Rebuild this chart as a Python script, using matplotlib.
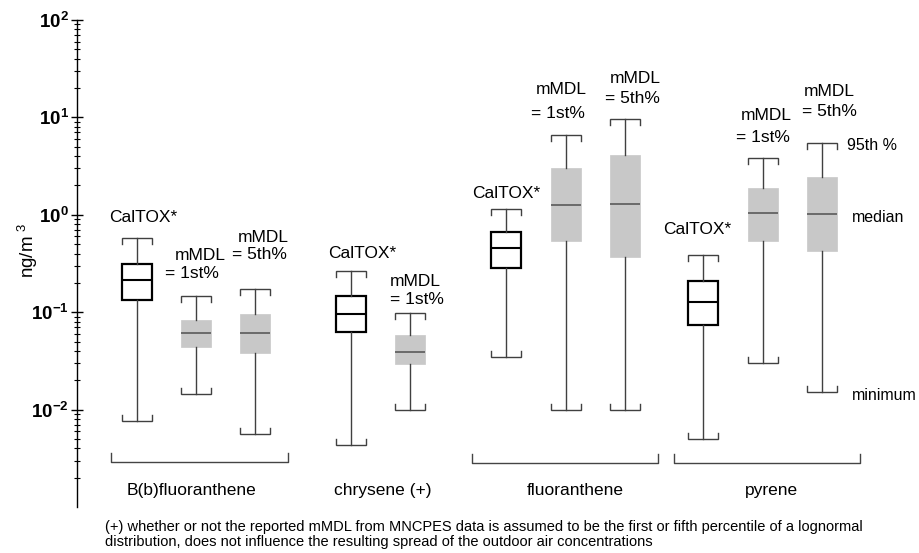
import numpy as np
import matplotlib
matplotlib.use("Agg")
import matplotlib.pyplot as plt
from matplotlib.ticker import FixedLocator, LogLocator, FuncFormatter, NullFormatter

plt.rcParams['font.family'] = ['Liberation Sans', 'DejaVu Sans']
plt.rcParams['mathtext.fontset'] = 'custom'
plt.rcParams['mathtext.rm'] = 'Liberation Sans'
plt.rcParams['mathtext.bf'] = 'Liberation Sans:bold'

# data (ng/m3)
groups = ["B(b)fluoranthene", "chrysene (+)", "fluoranthene", "pyrene"]
box_group = [0, 0, 0, 1, 1, 2, 2, 2, 3, 3, 3]
box_kind = ["CalTOX", "1st", "5th", "CalTOX", "1st",
            "CalTOX", "1st", "5th", "CalTOX", "1st", "5th"]
p95 = [0.577, 0.145, 0.174, 0.262, 0.098, 1.15, 6.62, 9.66, 0.389, 3.84, 5.43]
q3 = [0.312, 0.0838, 0.095, 0.147, 0.0588, 0.664, 3.03, 4.12, 0.209, 1.89, 2.45]
med = [0.212, 0.0616, 0.0616, 0.0966, 0.0391, 0.455, 1.27, 1.29, 0.127, 1.04, 1.01]
q1 = [0.132, 0.044, 0.0384, 0.0626, 0.0292, 0.286, 0.537, 0.368, 0.0745, 0.541, 0.428]
vmin = [0.0076, 0.0145, 0.00567, 0.0043, 0.0100, 0.0347, 0.0098, 0.0098, 0.00504, 0.0301, 0.0152]

W, H = 919, 553
def px(x, y):
    return x / W, 1 - y / H

fig = plt.figure(figsize=(W / 100, H / 100), dpi=100)
ax = fig.add_axes([77 / W, 1 - 507 / H, 1 - 77 / W, (507 - 20) / H])

# layout (x in pixel-like units)
positions = [137, 196, 255, 351, 410, 506, 566, 625, 703, 763, 822]
bw = 30

whisk_col = "#404040"
for kind_is_cal in (True, False):
    idx = [i for i, k in enumerate(box_kind) if (k == "CalTOX") == kind_is_cal]
    stats = [dict(med=med[i], q1=q1[i], q3=q3[i], whislo=vmin[i], whishi=p95[i], fliers=[])
             for i in idx]
    if kind_is_cal:
        ax.bxp(stats, positions=[positions[i] for i in idx], widths=bw, showcaps=False,
               showfliers=False, patch_artist=True,
               boxprops=dict(facecolor="white", edgecolor="black", linewidth=1.6),
               medianprops=dict(color="black", linewidth=1.5),
               whiskerprops=dict(color=whisk_col, linewidth=1.0))
    else:
        ax.bxp(stats, positions=[positions[i] for i in idx], widths=bw, showcaps=False,
               showfliers=False, patch_artist=True,
               boxprops=dict(facecolor="#c8c8c8", edgecolor="#c8c8c8", linewidth=0.5),
               medianprops=dict(color="#5a5a5a", linewidth=1.2),
               whiskerprops=dict(color=whisk_col, linewidth=1.0))

# bracket shaped caps
f = 10 ** (6 / 97.5)
for i, x in enumerate(positions):
    hi, lo = p95[i], vmin[i]
    ax.plot([x - bw / 2, x - bw / 2, x + bw / 2, x + bw / 2], [hi / f, hi, hi, hi / f],
            color=whisk_col, lw=1.0, solid_joinstyle="miter")
    ax.plot([x - bw / 2, x - bw / 2, x + bw / 2, x + bw / 2], [lo * f, lo, lo, lo * f],
            color=whisk_col, lw=1.0, solid_joinstyle="miter")

ax.set_yscale("log")
ax.set_ylim(1e-3, 1e2)
ax.set_xlim(77, W)
ax.yaxis.set_major_locator(FixedLocator([1e-2, 1e-1, 1e0, 1e1, 1e2]))
ax.yaxis.set_major_formatter(FuncFormatter(lambda v, p: r"$\mathbf{10^{%d}}$" % round(np.log10(v))))
ax.yaxis.set_minor_locator(LogLocator(base=10, subs=np.arange(2, 10)))
ax.yaxis.set_minor_formatter(NullFormatter())
ax.tick_params(axis="y", which="major", direction="inout", length=8, width=1, labelsize=13.5, pad=2)
ax.tick_params(axis="y", which="minor", direction="inout", length=5, width=0.8)
ax.set_xticks([])
for s in ("top", "right", "bottom"):
    ax.spines[s].set_visible(False)
ax.spines["left"].set_linewidth(1.0)

# group brackets
bt = ax.get_xaxis_transform()
brackets = [(0, 111, 288, 462), (2, 472, 658, 463), (3, 674, 860, 463)]
for g, x0, x1, yb in brackets:
    y0 = (507 - yb) / 487
    y1 = (507 - (yb - 9)) / 487
    ax.plot([x0, x0, x1, x1], [y1, y0, y0, y1], color="#444444", lw=1.0,
            transform=bt, clip_on=False)

label_x = [191.5, 382.5, 575, 771.5]
for g, name in enumerate(groups):
    fig.text(*px(label_x[g], 495), name, ha="center", va="baseline", fontsize=12.5)

# box annotations
notes = [("CalTOX*", 143, 218), ("mMDL", 200, 255), ("= 1st%", 192, 274),
         ("mMDL", 263, 237), ("= 5th%", 259, 254),
         ("CalTOX*", 362, 253), ("mMDL", 415.5, 282), ("= 1st%", 416.5, 299),
         ("CalTOX*", 506, 193), ("mMDL", 561, 89), ("= 1st%", 558, 113),
         ("mMDL", 635, 79), ("= 5th%", 632, 98),
         ("CalTOX*", 697, 230), ("mMDL", 766.5, 115), ("= 1st%", 762.5, 137),
         ("mMDL", 829, 92), ("= 5th%", 829, 112)]
for t, x, y in notes:
    fig.text(*px(x, y), t, ha="center", va="center", fontsize=12.5)

for t, x, y in [("95th %", 847, 146), ("median", 852, 217), ("minimum", 852, 395)]:
    fig.text(*px(x, y), t, ha="left", va="center", fontsize=11.5)

fig.text(*px(28, 251), r"ng/m$^{\ 3}$", rotation=90, ha="center", va="center", fontsize=13.5)

foot_font = ["Liberation Sans Narrow", "Liberation Sans"]
fig.text(*px(105, 527), "(+) whether or not the reported mMDL from MNCPES data is assumed to be the "
         "first or fifth percentile of a lognormal", ha="left", va="center",
         fontsize=10.5, family=foot_font)
fig.text(*px(105, 542), "distribution, does not influence the resulting spread of the outdoor air "
         "concentrations", ha="left", va="center", fontsize=10.5, family=foot_font)

fig.savefig("out.png", dpi=100)
